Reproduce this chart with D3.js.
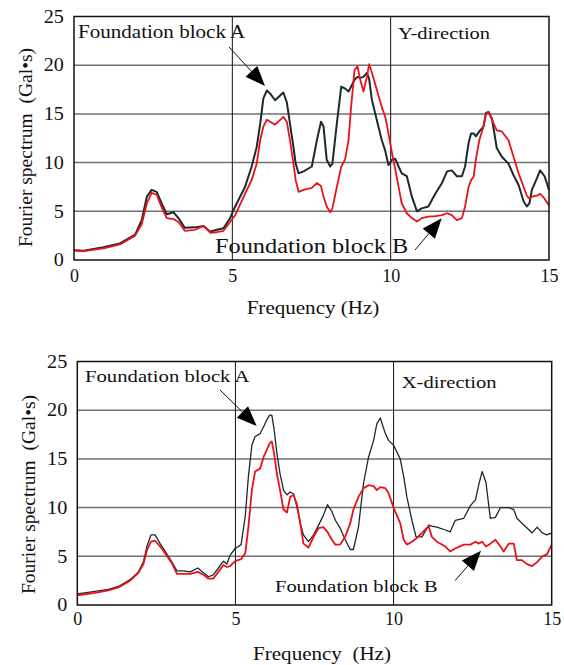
<!DOCTYPE html>
<html>
<head>
<meta charset="utf-8">
<script src="https://cdn.jsdelivr.net/npm/d3@7"></script>
<style>
  body { margin: 0; background: #fff; }
  text { font-family: "Liberation Serif", "Times New Roman", serif; fill: #111; }
</style>
</head>
<body>
<div id="chart"></div>
<script>
// Y-direction (top panel)
var topFreq = [0, 0.3, 0.93, 1.45, 1.93, 2.14, 2.3, 2.45, 2.61, 2.77, 2.93, 3.14, 3.3, 3.5, 3.82, 4.09, 4.3, 4.51, 4.72, 4.93,
  5.09, 5.4, 5.61, 5.77, 5.88, 5.98, 6.09, 6.19, 6.35, 6.61, 6.72, 6.82, 6.93, 7.0, 7.09, 7.25, 7.51, 7.67, 7.8, 7.88,
  7.98, 8.09, 8.16, 8.3, 8.44, 8.56, 8.67, 8.75, 8.86, 8.95, 9.04, 9.14, 9.25, 9.32, 9.41, 9.56, 9.72, 9.83, 9.93, 10.04,
  10.14, 10.25, 10.35, 10.51, 10.67, 10.83, 10.98, 11.19, 11.41, 11.62, 11.78, 11.93, 12.09, 12.25, 12.35, 12.46, 12.54, 12.62, 12.69, 12.8,
  12.93, 13.01, 13.09, 13.2, 13.35, 13.51, 13.72, 13.88, 14.04, 14.2, 14.3, 14.38, 14.46, 14.62, 14.72, 14.86, 15];
var topBlockA = [1.0, 0.95, 1.3, 1.7, 2.6, 4.1, 6.5, 7.2, 7.0, 5.8, 4.7, 4.9, 4.3, 3.3, 3.35, 3.5, 2.9, 3.1, 3.25, 4.3,
  5.5, 7.5, 9.6, 11.6, 14.0, 16.6, 17.4, 17.1, 16.4, 17.2, 16.2, 14.0, 11.6, 9.9, 8.9, 9.1, 9.6, 12.3, 14.2, 13.7,
  10.3, 9.6, 9.9, 14.0, 17.8, 17.6, 17.3, 17.8, 18.5, 18.8, 18.7, 18.8, 19.2, 18.6, 16.4, 14.4, 12.3, 11.2, 9.75, 10.3,
  10.4, 9.6, 8.9, 8.6, 6.5, 5.0, 5.3, 5.5, 6.8, 7.9, 9.1, 9.2, 8.6, 8.6, 9.6, 12.0, 13.0, 13.0, 12.7, 13.2,
  13.7, 15.1, 15.2, 14.5, 11.5, 10.6, 9.9, 8.7, 7.7, 6.0, 5.5, 5.8, 7.2, 8.4, 9.2, 8.6, 7.2];
var topBlockB = [1.0, 0.9, 1.2, 1.6, 2.5, 3.7, 5.8, 6.9, 6.7, 5.4, 4.3, 4.2, 3.9, 3.0, 3.1, 3.5, 2.8, 2.85, 3.0, 3.9,
  4.6, 6.8, 8.2, 9.9, 12.3, 13.7, 14.4, 14.2, 13.9, 14.7, 14.2, 12.3, 9.9, 8.2, 7.0, 7.2, 7.4, 7.9, 7.6, 6.5,
  5.5, 4.9, 5.3, 7.5, 9.6, 10.3, 12.3, 15.7, 19.5, 19.9, 18.5, 17.3, 18.8, 20.1, 19.2, 17.5, 15.7, 14.7, 13.0, 11.0,
  9.4, 7.5, 5.8, 4.8, 4.3, 3.95, 4.3, 4.45, 4.5, 4.6, 4.8, 4.6, 4.1, 4.3, 5.5, 7.5, 8.2, 8.55, 10.3, 12.3,
  13.7, 15.0, 15.2, 14.4, 13.3, 13.2, 12.3, 10.6, 8.9, 7.5, 6.6, 6.3, 6.5, 6.6, 6.8, 6.3, 5.6];

// X-direction (bottom panel)
var bottomFreq = [0, 0.56, 0.98, 1.3, 1.67, 1.93, 2.09, 2.2, 2.33, 2.46, 2.62, 2.78, 2.99, 3.15, 3.35, 3.57, 3.81, 3.99, 4.15, 4.3,
  4.46, 4.62, 4.73, 4.83, 4.99, 5.18, 5.31, 5.41, 5.52, 5.62, 5.78, 5.89, 5.99, 6.08, 6.15, 6.22, 6.31, 6.41, 6.52, 6.63,
  6.73, 6.84, 6.94, 7.05, 7.15, 7.31, 7.47, 7.63, 7.78, 7.91, 8.05, 8.16, 8.31, 8.47, 8.63, 8.73, 8.89, 9.05, 9.21, 9.37,
  9.47, 9.58, 9.74, 9.84, 10.0, 10.21, 10.32, 10.42, 10.58, 10.71, 10.9, 11.11, 11.21, 11.37, 11.64, 11.79, 11.95, 12.22, 12.43, 12.59,
  12.69, 12.8, 12.92, 13.06, 13.22, 13.38, 13.48, 13.64, 13.8, 13.9, 14.06, 14.22, 14.38, 14.54, 14.7, 14.85, 15];
var bottomBlockA = [1.13, 1.4, 1.6, 1.9, 2.6, 3.4, 4.4, 6.0, 7.2, 7.2, 6.3, 5.5, 4.4, 3.5, 3.5, 3.4, 3.8, 3.3, 2.9, 3.1,
  3.8, 4.5, 4.2, 5.1, 5.8, 6.2, 9.1, 13.2, 16.4, 17.3, 17.6, 18.3, 19.0, 19.5, 19.5, 18.1, 15.6, 13.5, 11.8, 11.3,
  11.6, 11.4, 10.1, 8.4, 7.2, 6.5, 7.2, 8.2, 9.2, 10.3, 9.6, 8.7, 7.9, 6.7, 5.7, 5.7, 8.0, 12.5, 15.2, 16.9,
  18.6, 19.2, 17.6, 16.9, 16.4, 15.0, 13.2, 11.1, 8.7, 7.0, 7.0, 8.2, 8.1, 8.0, 7.7, 7.5, 8.7, 8.9, 10.2, 10.8,
  12.3, 13.7, 12.6, 8.9, 9.0, 10.0, 10.0, 10.0, 9.8, 8.9, 8.4, 7.9, 7.4, 8.0, 7.4, 7.2, 7.4];
var bottomBlockB = [1.0, 1.25, 1.5, 1.8, 2.5, 3.3, 4.2, 5.6, 6.5, 6.6, 6.0, 5.3, 4.3, 3.2, 3.2, 3.2, 3.4, 3.1, 2.7, 2.7,
  3.4, 4.1, 3.9, 4.0, 4.5, 4.7, 5.3, 8.0, 11.8, 13.7, 14.0, 15.2, 15.9, 16.6, 16.8, 15.6, 13.5, 11.8, 9.8, 9.5,
  11.1, 11.3, 10.4, 8.4, 6.3, 5.9, 7.0, 7.9, 8.0, 7.5, 6.7, 6.2, 6.2, 7.0, 8.4, 9.8, 11.1, 12.0, 12.3, 12.2,
  11.8, 12.1, 12.0, 11.5, 10.0, 8.4, 6.7, 6.2, 6.5, 6.8, 7.4, 8.1, 7.0, 6.5, 6.0, 5.5, 5.8, 6.2, 6.2, 6.5,
  6.3, 6.5, 6.0, 6.3, 6.7, 6.0, 5.5, 6.3, 6.3, 4.6, 4.6, 4.2, 4.0, 4.4, 5.0, 5.2, 6.2];

var yTicks = [0, 5, 10, 15, 20, 25];
var xTicks = [0, 5, 10, 15];
var gridValues = [5, 10, 15, 20];
var freqGrid = [5, 10];

var svg = d3.select("#chart").append("svg")
    .attr("width", 564)
    .attr("height", 665);

// text slightly wider than tall, like the scanned figure
function label(x, y, str, size, anchor) {
  return svg.append("text")
    .attr("transform", "translate(" + x + "," + y + ") scale(1.17,1)")
    .attr("text-anchor", anchor || "start")
    .style("font-size", size + "px")
    .style("white-space", "pre")
    .text(str);
}

function arrow(x1, y1, x2, y2) {
  var dx = x2 - x1, dy = y2 - y1, len = Math.sqrt(dx * dx + dy * dy);
  var ux = dx / len, uy = dy / len;
  var bx = x2 - ux * 20, by = y2 - uy * 20;
  svg.append("line")
    .attr("x1", x1).attr("y1", y1).attr("x2", bx).attr("y2", by)
    .attr("stroke", "#111").attr("stroke-width", 1);
  svg.append("path")
    .attr("d", "M" + x2 + "," + y2 + "L" + (bx - uy * 8) + "," + (by + ux * 8) +
               "L" + (bx + uy * 8) + "," + (by - ux * 8) + "Z")
    .attr("fill", "#000");
}

function panel(p) {
  var x = d3.scaleLinear().domain([0, 15]).range([p.left, p.right]);
  var y = d3.scaleLinear().domain([0, 25]).range([p.bottom, p.top]);
  var g = svg.append("g");

  g.selectAll(".hgrid").data(gridValues).enter().append("line")
    .attr("x1", p.left).attr("x2", p.right)
    .attr("y1", function(d) { return y(d); })
    .attr("y2", function(d) { return y(d); })
    .attr("stroke", "#707070").attr("stroke-width", 1.5);

  g.selectAll(".vgrid").data(freqGrid).enter().append("line")
    .attr("x1", function(d) { return x(d); })
    .attr("x2", function(d) { return x(d); })
    .attr("y1", p.top).attr("y2", p.bottom)
    .attr("stroke", "#111").attr("stroke-width", 1);

  var line = d3.line()
    .x(function(d, i) { return x(p.freq[i]); })
    .y(function(d) { return y(d); });

  g.append("path").datum(p.a).attr("d", line)
    .attr("fill", "none").attr("stroke", "#1d2a2b").attr("stroke-width", p.blackWidth)
    .attr("stroke-linejoin", "round");
  g.append("path").datum(p.b).attr("d", line)
    .attr("fill", "none").attr("stroke", "#e8121a").attr("stroke-width", 1.8)
    .attr("stroke-linejoin", "round");

  g.append("rect")
    .attr("x", p.left).attr("y", p.top)
    .attr("width", p.right - p.left).attr("height", p.bottom - p.top)
    .attr("fill", "none").attr("stroke", "#111").attr("stroke-width", 1.5);

  var yAxis = g.append("g")
    .attr("transform", "translate(" + p.left + ",0)")
    .call(d3.axisLeft(y).tickValues(yTicks).tickSize(0).tickPadding(9));
  var xAxis = g.append("g")
    .attr("transform", "translate(0," + p.bottom + ")")
    .call(d3.axisBottom(x).tickValues(xTicks).tickSize(0).tickPadding(p.xPad));
  [yAxis, xAxis].forEach(function(ax) {
    ax.select(".domain").remove();
    ax.selectAll("text")
      .attr("fill", "#111")
      .style("font-family", "'Liberation Serif', 'Times New Roman', serif")
      .style("font-size", "18px");
  });
  yAxis.selectAll("text").attr("transform", "scale(1.12,1)");

  svg.append("text")
    .attr("transform", "translate(" + p.titleX + "," + p.titleY + ") rotate(-90)")
    .attr("text-anchor", "middle")
    .style("font-size", "19.5px")
    .style("white-space", "pre")
    .text("Fourier spectrum  (Gal\u2022s)");
}

panel({left: 74, right: 549, top: 16.5, bottom: 260, freq: topFreq, a: topBlockA, b: topBlockB,
       blackWidth: 2, xPad: 9, titleX: 31.5, titleY: 147.5});
panel({left: 77.3, right: 551.7, top: 361.5, bottom: 605, freq: bottomFreq, a: bottomBlockA, b: bottomBlockB,
       blackWidth: 1.3, xPad: 7.5, titleX: 35, titleY: 494.5});

label(78, 37.7, "Foundation block A", 18);
label(398, 39.3, "Y-direction", 17.5);
label(215, 253, "Foundation block B", 20.8);
label(313, 314, "Frequency (Hz)", 18, "middle");
arrow(229, 47, 265, 86);
arrow(415, 250, 441.7, 218.3);

label(85, 381.7, "Foundation block A", 17.7);
label(401.7, 387.7, "X-direction", 17.6);
label(275, 591.7, "Foundation block B", 17.5);
label(322, 660, "Frequency  (Hz)", 18, "middle");
arrow(220, 390, 256.7, 426);
arrow(455, 580.7, 481, 550.7);
</script>
</body>
</html>
